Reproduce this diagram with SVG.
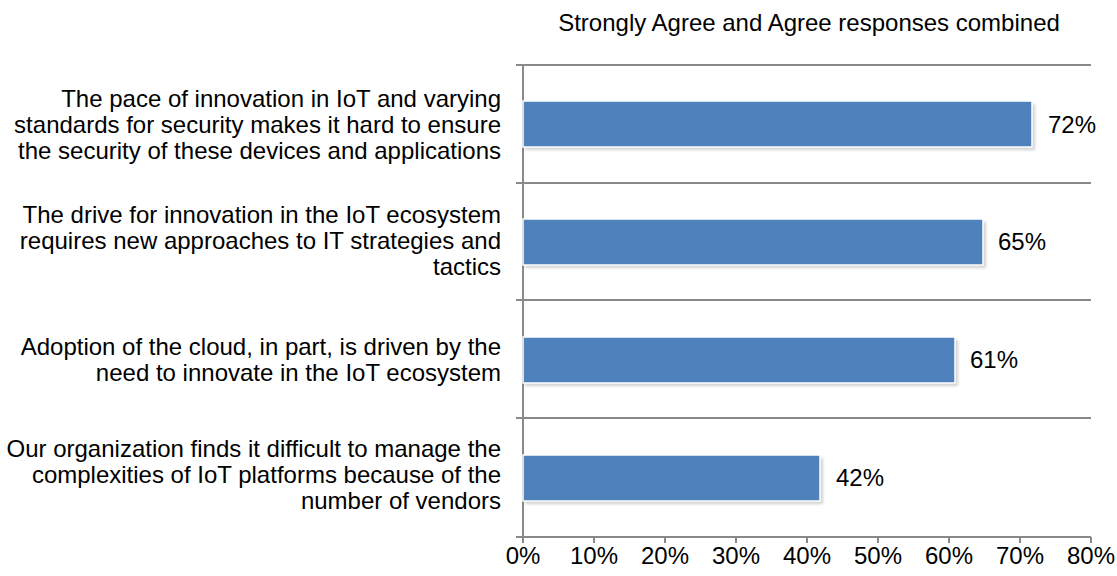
<svg xmlns="http://www.w3.org/2000/svg" width="1117" height="576" viewBox="0 0 1117 576">
<defs>
<style>
text{font-family:"Liberation Sans",Arial,sans-serif;font-size:24px;fill:#000}
.cat{text-anchor:end}
.tick{text-anchor:middle}
.grid{stroke:#898989;stroke-width:2;fill:none}
.bar{fill:#4F81BD;stroke:#fff;stroke-width:1.5}
.shadow{fill:#000;opacity:0.18}
</style>
<filter id="blur" x="-5%" y="-20%" width="110%" height="150%"><feGaussianBlur stdDeviation="1.5"/></filter>
</defs>
<rect width="1117" height="576" fill="#fff"/>
<text x="809" y="31" class="tick">Strongly Agree and Agree responses combined</text>
<g id="gridlines">
<path class="grid" d="M516 65H1091M516 183H1091M516 300H1091M516 418H1091M516 537H1091"/>
<path class="grid" d="M523 65V537"/>
<path class="grid" d="M523 537v6M594 537v6M665 537v6M736 537v6M807 537v6M878 537v6M949 537v6M1020 537v6M1091 537v6"/>
</g>
<g id="bar1">
<rect class="shadow" x="525" y="104" width="510" height="46" filter="url(#blur)"/>
<rect class="bar" x="523" y="101" width="509" height="46"/>
<text x="1048" y="133">72%</text>
</g>
<g id="bar2">
<rect class="shadow" x="525" y="222" width="461" height="46" filter="url(#blur)"/>
<rect class="bar" x="523" y="219" width="460" height="46"/>
<text x="998" y="250">65%</text>
</g>
<g id="bar3">
<rect class="shadow" x="525" y="340" width="433" height="46" filter="url(#blur)"/>
<rect class="bar" x="523" y="337" width="432" height="46"/>
<text x="970" y="368">61%</text>
</g>
<g id="bar4">
<rect class="shadow" x="525" y="458" width="298" height="46" filter="url(#blur)"/>
<rect class="bar" x="523" y="455" width="297" height="46"/>
<text x="836" y="486">42%</text>
</g>
<g id="categories">
<text class="cat" x="501"><tspan x="501" y="107">The pace of innovation in IoT and varying</tspan><tspan x="501" y="133">standards for security makes it hard to ensure</tspan><tspan x="501" y="159">the security of these devices and applications</tspan></text>
<text class="cat" x="501"><tspan x="501" y="223">The drive for innovation in the IoT ecosystem</tspan><tspan x="501" y="249">requires new approaches to IT strategies and</tspan><tspan x="501" y="275">tactics</tspan></text>
<text class="cat" x="501"><tspan x="501" y="355">Adoption of the cloud, in part, is driven by the</tspan><tspan x="501" y="381">need to innovate in the IoT ecosystem</tspan></text>
<text class="cat" x="501"><tspan x="501" y="457">Our organization finds it difficult to manage the</tspan><tspan x="501" y="483">complexities of IoT platforms because of the</tspan><tspan x="501" y="509">number of vendors</tspan></text>
</g>
<g id="axis-labels">
<text class="tick" x="523" y="564">0%</text>
<text class="tick" x="594" y="564">10%</text>
<text class="tick" x="665" y="564">20%</text>
<text class="tick" x="736" y="564">30%</text>
<text class="tick" x="807" y="564">40%</text>
<text class="tick" x="878" y="564">50%</text>
<text class="tick" x="949" y="564">60%</text>
<text class="tick" x="1020" y="564">70%</text>
<text class="tick" x="1091" y="564">80%</text>
</g>
</svg>
